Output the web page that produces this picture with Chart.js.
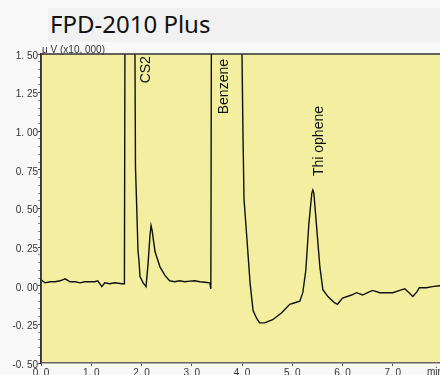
<!DOCTYPE html>
<html lang="en">
<head>
    <meta charset="UTF-8">
    <title>FPD-2010 Plus</title>
    <script src="https://cdn.jsdelivr.net/npm/chart.js@4.4.0/dist/chart.umd.min.js"></script>
    <style>
        body {
            margin: 0;
            width: 440px;
            height: 375px;
            overflow: hidden;
            background-color: #f8f8f8;
            position: relative;
        }
        .title {
            position: absolute;
            left: 48px;
            top: 8px;
            width: 392px;
            height: 34px;
            background-color: #f1f1f1;
        }
        .title span {
            position: absolute;
            left: 2px;
            top: 4px;
            font-family: 'Noto Sans', sans-serif;
            font-size: 24px;
            line-height: 24px;
            color: #111;
        }
        .chart-container {
            position: absolute;
            left: 0;
            top: 0;
            width: 460px;
            height: 375px;
        }
    </style>
</head>
<body>
    <div class="title"><span>FPD-2010 Plus</span></div>
    <div class="chart-container">
        <canvas id="fpdChart"></canvas>
    </div>

    <script>
        // Retention time (min) and detector signal (uV x10,000)
        const minutes = [
            0.00, 0.08, 0.18, 0.28, 0.38, 0.48, 0.58, 0.68, 0.78, 0.87,
            0.97, 1.07, 1.13, 1.21, 1.27, 1.37, 1.47, 1.61, 1.66, 1.68,
            1.86, 1.87, 1.88, 1.90, 1.93, 1.95, 1.97, 2.03, 2.09, 2.13,
            2.17, 2.19, 2.21, 2.27, 2.37, 2.47, 2.56, 2.66, 2.76, 2.86,
            2.96, 3.06, 3.16, 3.26, 3.36, 3.38, 3.40, 3.99, 4.00, 4.02,
            4.04, 4.09, 4.16, 4.22, 4.29, 4.35, 4.45, 4.61, 4.79, 4.95,
            5.05, 5.15, 5.21, 5.27, 5.33, 5.39, 5.41, 5.43, 5.49, 5.55,
            5.61, 5.71, 5.84, 5.90, 6.00, 6.18, 6.28, 6.40, 6.50, 6.60,
            6.74, 6.88, 7.00, 7.14, 7.24, 7.34, 7.40, 7.48, 7.53, 7.67,
            7.79, 7.93, 8.00
        ];
        const signal = [
            0.039, 0.019, 0.026, 0.026, 0.032, 0.045, 0.026, 0.026, 0.019, 0.026,
            0.026, 0.026, 0.032, -0.006, 0.019, 0.013, 0.019, 0.013, 0.013, 3.0,
            3.0, 1.50, 0.77, 0.56, 0.23, 0.16, 0.06, 0.02, -0.006, 0.14,
            0.33, 0.39, 0.36, 0.22, 0.12, 0.065, 0.032, 0.026, 0.032, 0.026,
            0.030, 0.032, 0.026, 0.023, 0.019, -0.02, 3.0, 3.0, 1.50, 0.97,
            0.56, 0.34, 0.02, -0.16, -0.21, -0.24, -0.24, -0.22, -0.175, -0.12,
            -0.11, -0.10, -0.045, 0.10, 0.40, 0.60, 0.62, 0.60, 0.36, 0.12,
            -0.026, -0.07, -0.11, -0.12, -0.08, -0.06, -0.045, -0.06, -0.045, -0.03,
            -0.045, -0.045, -0.045, -0.03, -0.02, -0.05, -0.07, -0.04, -0.013, -0.013,
            -0.006, 0.0, 0.0
        ];

        // Peak names and where their vertical labels end (time, level)
        const peakNames = ['CS2', 'Benzene', 'Thi ophene'];
        const labelMinutes = [2.17, 3.72, 5.61];
        const labelLevels = [1.31, 1.11, 0.71];

        const unitY = '\u03bc V (x10, 000)';
        const unitX = 'min';

        // Japanese-style number format: "1. 50"
        function spaced(value, digits) {
            return value.toFixed(digits).replace('.', '. ');
        }

        const points = minutes.map((t, i) => ({ x: t, y: signal[i] }));

        // Yellow plot background, frame, unit captions and peak names
        const chromPlugin = {
            id: 'chrom',
            beforeDraw(chart) {
                const { ctx, chartArea: a } = chart;
                ctx.save();
                ctx.fillStyle = '#f3eea0';
                ctx.fillRect(a.left, a.top, a.right - a.left, a.bottom - a.top);
                ctx.restore();
            },
            afterDraw(chart) {
                const { ctx, chartArea: a, scales } = chart;
                ctx.save();
                ctx.strokeStyle = '#333';
                ctx.lineWidth = 1.5;
                ctx.beginPath();
                ctx.moveTo(a.left, a.bottom);
                ctx.lineTo(a.left, a.top);
                ctx.lineTo(a.right, a.top);
                ctx.stroke();

                ctx.fillStyle = '#333';
                ctx.font = '10px "Liberation Sans", Arial, sans-serif';
                ctx.textBaseline = 'alphabetic';
                ctx.textAlign = 'left';
                ctx.fillText(unitY, a.left + 1, a.top - 1);
                ctx.textBaseline = 'middle';
                ctx.fillText(unitX, 427, a.bottom + 9);

                ctx.fillStyle = '#111';
                ctx.font = '14px "Liberation Sans", Arial, sans-serif';
                ctx.textBaseline = 'alphabetic';
                peakNames.forEach((name, i) => {
                    const px = scales.x.getPixelForValue(labelMinutes[i]);
                    const py = scales.y.getPixelForValue(labelLevels[i]);
                    ctx.save();
                    ctx.translate(px, py);
                    ctx.rotate(-Math.PI / 2);
                    ctx.fillText(name, 0, 0);
                    ctx.restore();
                });
                ctx.restore();
            }
        };

        const ctx = document.getElementById('fpdChart').getContext('2d');
        new Chart(ctx, {
            type: 'line',
            data: {
                datasets: [{
                    data: points,
                    borderColor: '#111',
                    borderWidth: 1.4,
                    pointRadius: 0,
                    tension: 0,
                    fill: false
                }]
            },
            options: {
                responsive: true,
                maintainAspectRatio: false,
                animation: false,
                layout: { padding: { top: 54, right: 17, left: 0, bottom: 0 } },
                plugins: {
                    legend: { display: false },
                    tooltip: { enabled: false }
                },
                scales: {
                    x: {
                        type: 'linear',
                        min: 0,
                        max: 8,
                        afterFit: s => { s.height = 12; },
                        border: { display: true, color: '#666', width: 1.5 },
                        grid: { drawOnChartArea: false, tickLength: 3, color: '#555' },
                        ticks: {
                            stepSize: 1,
                            padding: 1,
                            maxRotation: 0,
                            color: '#333',
                            font: { family: '"Liberation Sans", Arial, sans-serif', size: 10 },
                            callback: v => (v < 8 ? spaced(v, 1) : '')
                        }
                    },
                    y: {
                        min: -0.5,
                        max: 1.5,
                        afterFit: s => { s.width = 41; },
                        border: { display: true, color: '#333', width: 1.5 },
                        grid: {
                            drawOnChartArea: false,
                            tickLength: 3,
                            tickColor: c => (Math.abs(c.tick.value * 4 - Math.round(c.tick.value * 4)) < 1e-6 ? '#444' : '#888')
                        },
                        ticks: {
                            stepSize: 0.05,
                            autoSkip: false,
                            padding: 0,
                            labelOffset: 2,
                            color: '#333',
                            font: { family: '"Liberation Sans", Arial, sans-serif', size: 10 },
                            callback: v => (Math.abs(v * 4 - Math.round(v * 4)) < 1e-6 ? spaced(v, 2) : '')
                        }
                    }
                }
            },
            plugins: [chromPlugin]
        });
    </script>
</body>
</html>
